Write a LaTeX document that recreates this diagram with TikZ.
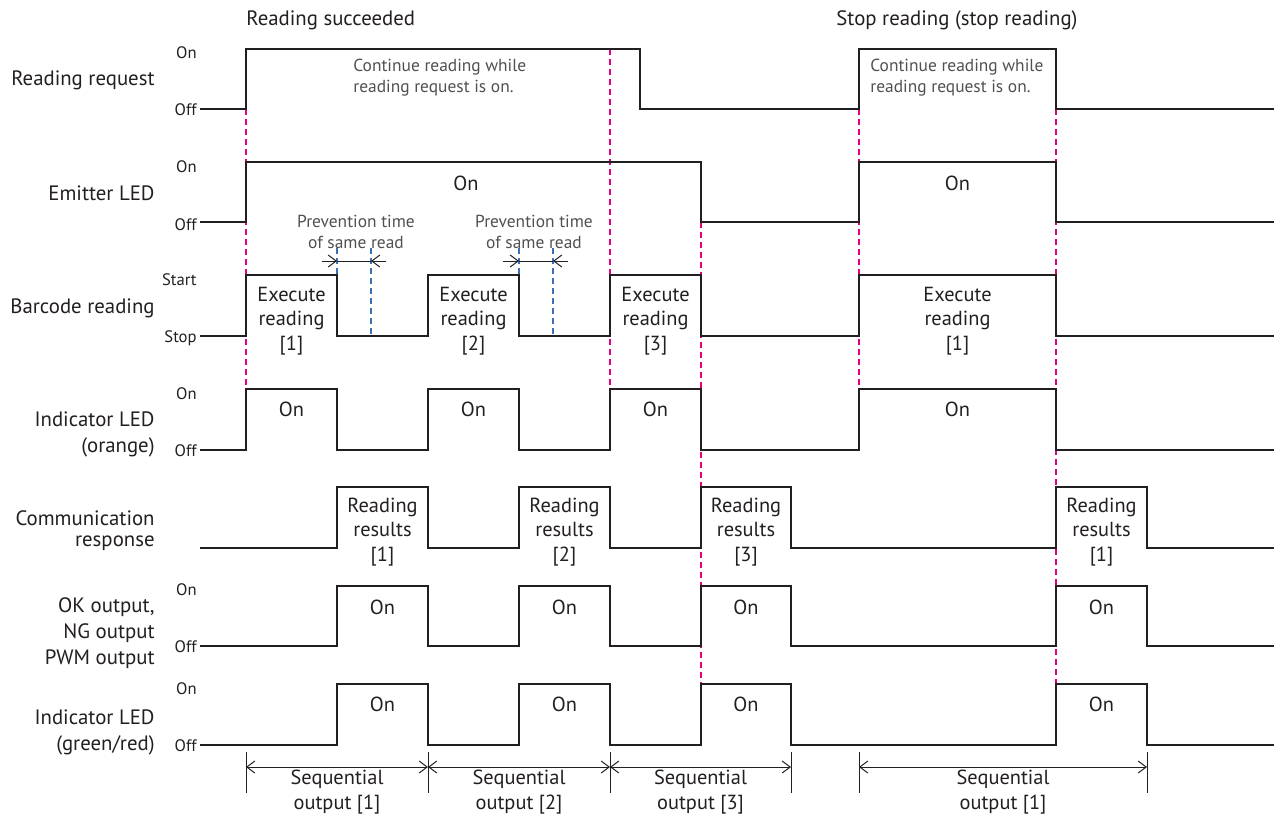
\documentclass[tikz,border=0pt]{standalone}
\usepackage{fontspec}
\setmainfont{PT Sans}
\usepackage{tikz}
\usetikzlibrary{arrows.meta,positioning,calc}

\definecolor{sigline}{HTML}{231F20}
\definecolor{markpink}{HTML}{E5007F}
\definecolor{markblue}{HTML}{3D6FB6}
\definecolor{notegray}{HTML}{505050}

\begin{document}
\begin{tikzpicture}[x=0.5pt, y=-0.5pt,
  wave/.style={line width=1.25pt, draw=sigline, line join=miter},
  pinkmark/.style={draw=markpink, dash pattern=on 3pt off 2pt, line width=0.6pt},
  bluemark/.style={draw=markblue, dash pattern=on 3pt off 2pt, line width=0.6pt},
  siglabel/.style={anchor=east, align=right, inner sep=0pt, text=sigline,
    font=\fontsize{10.4}{13}\selectfont},
  levellabel/.style={anchor=east, inner sep=0pt, text=sigline,
    font=\fontsize{8.3}{9}\selectfont},
  pulsetext/.style={align=center, inner sep=0pt, text=sigline,
    font=\fontsize{10.2}{12.2}\selectfont},
  notetext/.style={align=left, inner sep=0pt, text=notegray,
    font=\fontsize{8.7}{10.5}\selectfont},
  headtext/.style={anchor=west, inner sep=0pt, text=sigline,
    font=\fontsize{10.4}{11}\selectfont},
  barbs/.style={line width=0.5pt, draw=sigline,
    {Straight Barb[length=4pt,width=6pt]}-{Straight Barb[length=4pt,width=6pt]}},
  barb/.style={line width=0.5pt, draw=sigline, -{Straight Barb[length=4pt,width=6pt]}}
]
\useasboundingbox (0,0) rectangle (1277,815);

% marker lines
\foreach \x/\ya/\yb in {246/109/389, 610/49/389, 701/222/684, 859/109/389, 1056/109/684}
  \draw[pinkmark] (\x,\ya) -- (\x,\yb);
\foreach \x in {337,371,519,553}
  \draw[bluemark] (\x,248) -- (\x,336);

% headings
\node[headtext] (headOk) at (246,20) {Reading succeeded};
\node[headtext] (headStop) at (836,20) {Stop reading (stop reading)};

% signal names
\node[siglabel] (nameReq) at (155,80) {Reading request};
\node[siglabel] (nameEmi) at (155,193) {Emitter LED};
\node[siglabel] (nameBar) at (155,308) {Barcode reading};
\node[siglabel] (nameOra) at (155,434.5) {Indicator LED\\(orange)};
\node[siglabel, font=\fontsize{10.4}{10.5}\selectfont] (nameCom) at (155,530.5) {Communication\\response};
\node[siglabel] (nameOut) at (155,633) {OK output,\\NG output\\PWM output};
\node[siglabel] (nameGrn) at (155,732.5) {Indicator LED\\(green/red)};

% levels
\foreach \nm/\hiy/\loy/\hitxt/\lotxt in {req/53/110/On/Off, emi/167/225/On/Off, bar/280/338/Start/Stop,
    ora/394/451/On/Off, out/590/647/On/Off, grn/689/746/On/Off}{
  \node[levellabel] (\nm-hi) at (197,\hiy) {\hitxt};
  \node[levellabel] (\nm-lo) at (197,\loy) {\lotxt};
}

% waveforms
\draw[wave] (200,109) -- (246,109) -- (246,49) -- (640,49) -- (640,109) -- (859,109)
  -- (859,49) -- (1056,49) -- (1056,109) -- (1274,109);
\draw[wave] (200,222) -- (246,222) -- (246,162) -- (701,162) -- (701,222) -- (859,222)
  -- (859,162) -- (1056,162) -- (1056,222) -- (1274,222);
\foreach \hiy/\loy in {275/336, 389/450}
  \draw[wave] (200,\loy) -- (246,\loy) -- (246,\hiy) -- (337,\hiy) -- (337,\loy) -- (428,\loy)
    -- (428,\hiy) -- (519,\hiy) -- (519,\loy) -- (610,\loy) -- (610,\hiy) -- (701,\hiy)
    -- (701,\loy) -- (859,\loy) -- (859,\hiy) -- (1056,\hiy) -- (1056,\loy) -- (1274,\loy);
\foreach \hiy/\loy in {487/548, 586/646, 684/745}
  \draw[wave] (200,\loy) -- (337,\loy) -- (337,\hiy) -- (428,\hiy) -- (428,\loy) -- (519,\loy)
    -- (519,\hiy) -- (610,\hiy) -- (610,\loy) -- (701,\loy) -- (701,\hiy) -- (791,\hiy)
    -- (791,\loy) -- (1056,\loy) -- (1056,\hiy) -- (1147,\hiy) -- (1147,\loy) -- (1274,\loy);

% texts in the pulses
\node[notetext, anchor=west] (noteA) at (353,77.5) {Continue reading while\\reading request is on.};
\node[notetext, anchor=west] (noteB) at (870,77.5) {Continue reading while\\reading request is on.};
\node[pulsetext] (emiOnA) at (466,183) {On};
\node[pulsetext] (emiOnB) at (957.5,183) {On};
\node[notetext, align=center] (prevA) at (356,232) {Prevention time\\of same read};
\node[notetext, align=center] (prevB) at (534,232) {Prevention time\\of same read};
\foreach \x/\k [count=\i] in {291.5/1, 473.5/2, 655.5/3, 957.5/1}{
  \node[pulsetext] (exec\i) at (\x,321) {Execute\\reading\\{[\k]}};
  \node[pulsetext] (oraOn\i) at (\x,409) {On};
}
\foreach \x/\k [count=\i] in {382.5/1, 564.5/2, 746/3, 1101.5/1}{
  \node[pulsetext] (res\i) at (\x,532) {Reading\\results\\{[\k]}};
  \node[pulsetext] (outOn\i) at (\x,607) {On};
  \node[pulsetext] (grnOn\i) at (\x,704) {On};
}

% prevention time of same read
\foreach \a/\b/\c/\d in {322/337/371/386, 503/519/553/568}{
  \draw[barb] (\a,261) -- (\b,261);
  \draw[barb] (\d,261) -- (\c,261);
  \draw[line width=0.5pt, draw=sigline] (\b,261) -- (\c,261);
}

% sequential output
\foreach \x [count=\i] in {246,428,610,791,859,1147}{
  \draw[line width=0.5pt, draw=sigline] (\x,752) -- (\x,793);
  \coordinate (seq\i) at (\x,767);
}
\draw[barbs] (seq1) -- (seq2);
\draw[barbs] (seq2) -- (seq3);
\draw[barbs] (seq3) -- (seq4);
\draw[barbs] (seq5) -- (seq6);
\node[pulsetext] (seqA) at (337,792) {Sequential\\output [1]};
\node[pulsetext] (seqB) at (519,792) {Sequential\\output [2]};
\node[pulsetext] (seqC) at (700.5,792) {Sequential\\output [3]};
\node[pulsetext] (seqD) at (1003,792) {Sequential\\output [1]};
\end{tikzpicture}
\end{document}
